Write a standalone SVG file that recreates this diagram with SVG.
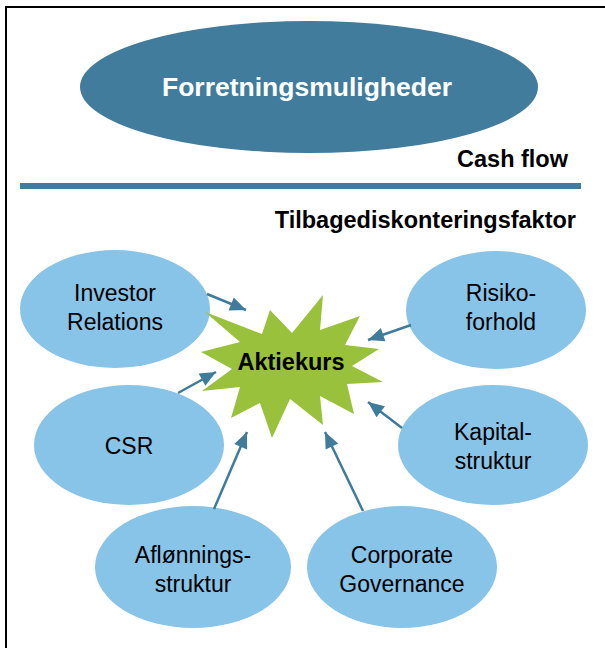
<svg xmlns="http://www.w3.org/2000/svg" width="605" height="648" viewBox="0 0 605 648">
  <style>
    .factor { fill: #88c3e8; }
    .label { font-family: "Liberation Sans", Arial, sans-serif; font-size: 23px; fill: #000; text-anchor: middle; }
    .head { font-family: "Liberation Sans", Arial, sans-serif; font-size: 23.5px; font-weight: bold; fill: #000; text-anchor: end; }
    .conn { stroke: #3f7b9b; stroke-width: 2.5; fill: none; marker-end: url(#arrow); }
  </style>
  <defs>
    <marker id="arrow" markerUnits="userSpaceOnUse" markerWidth="20" markerHeight="20" viewBox="0 0 20 20" refX="18" refY="10" orient="auto">
      <path d="M2,3 L18,10 L2,17 Z" fill="#3f7b9b"/>
    </marker>
  </defs>

  <rect width="605" height="648" fill="#fff"/>
  <!-- frame: top and left edges only -->
  <path d="M6,660 L6,7 L620,7" fill="none" stroke="#000" stroke-width="2"/>

  <g id="forretningsmuligheder">
    <ellipse cx="309" cy="87" rx="229" ry="66" fill="#417c9c"/>
    <text x="307" y="96" font-family="'Liberation Sans', Arial, sans-serif" font-size="26.5" font-weight="bold" fill="#fff" text-anchor="middle">Forretningsmuligheder</text>
  </g>

  <g id="cashflow">
    <text class="head" x="568" y="167">Cash flow</text>
  </g>
  <rect id="divider" x="20" y="183" width="561" height="6" fill="#417c9c"/>
  <g id="tilbagediskontering">
    <text class="head" x="576" y="228">Tilbagediskonteringsfaktor</text>
  </g>

  <g id="investor-relations">
    <ellipse class="factor" cx="115" cy="309" rx="95" ry="59"/>
    <text class="label" x="115" y="301">Investor</text>
    <text class="label" x="115" y="330">Relations</text>
  </g>
  <g id="risikoforhold">
    <ellipse class="factor" cx="496" cy="310" rx="90" ry="59"/>
    <text class="label" x="501" y="301">Risiko-</text>
    <text class="label" x="501" y="330">forhold</text>
  </g>
  <g id="csr">
    <ellipse class="factor" cx="129" cy="445" rx="95" ry="60"/>
    <text class="label" x="129" y="454">CSR</text>
  </g>
  <g id="kapitalstruktur">
    <ellipse class="factor" cx="493" cy="445" rx="95" ry="60"/>
    <text class="label" x="493" y="440">Kapital-</text>
    <text class="label" x="493" y="469">struktur</text>
  </g>
  <g id="aflonningsstruktur">
    <ellipse class="factor" cx="193" cy="567" rx="98" ry="61"/>
    <text class="label" x="193" y="563">Aflønnings-</text>
    <text class="label" x="193" y="592">struktur</text>
  </g>
  <g id="corporate-governance">
    <ellipse class="factor" cx="402" cy="567" rx="95" ry="61"/>
    <text class="label" x="402" y="563">Corporate</text>
    <text class="label" x="402" y="592">Governance</text>
  </g>

  <g id="aktiekurs">
    <polygon fill="#99c13c" points="205,312 262,334 270,310 292,333 323,295 320,330 360,316 345,345 379,349 352,366 383,382 347,384 354,414 320,396 323,425 290,399 272,438 260,403 231,418 240,387 202,391 232,369 201,352 240,342"/>
    <text x="291" y="370" font-family="'Liberation Sans', Arial, sans-serif" font-size="23.5" font-weight="bold" fill="#000" text-anchor="middle">Aktiekurs</text>
  </g>

  <g id="connectors">
    <line class="conn" x1="207" y1="294" x2="246" y2="310"/>
    <line class="conn" x1="178" y1="393" x2="216" y2="372"/>
    <line class="conn" x1="411" y1="325" x2="368" y2="340"/>
    <line class="conn" x1="402" y1="428" x2="368" y2="402"/>
    <line class="conn" x1="214" y1="509" x2="247" y2="432"/>
    <line class="conn" x1="363" y1="511" x2="325" y2="432"/>
  </g>
</svg>
